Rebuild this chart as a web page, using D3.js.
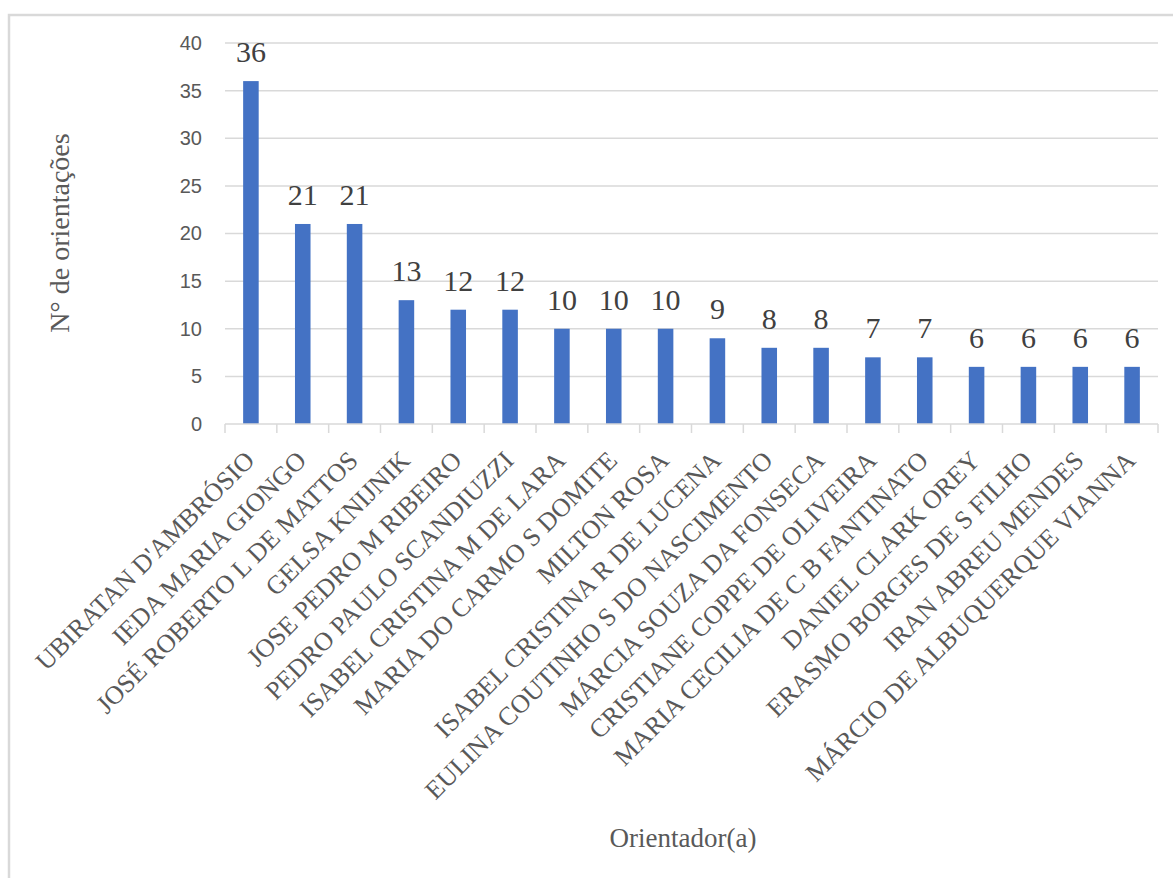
<!DOCTYPE html>
<html>
<head>
<meta charset="utf-8">
<script src="https://cdn.jsdelivr.net/npm/d3@7"></script>
<style>
  html, body { margin: 0; padding: 0; background: #fff; }
  svg { display: block; }
</style>
</head>
<body>
<svg id="chart" width="1173" height="878"></svg>
<script>
// Orientações por orientador(a)
const orientadores = [
  "UBIRATAN D'AMBRÓSIO",
  "IEDA MARIA GIONGO",
  "JOSÉ ROBERTO L DE MATTOS",
  "GELSA KNIJNIK",
  "JOSE PEDRO M RIBEIRO",
  "PEDRO PAULO SCANDIUZZI",
  "ISABEL CRISTINA M DE LARA",
  "MARIA DO CARMO S DOMITE",
  "MILTON ROSA",
  "ISABEL CRISTINA R DE LUCENA",
  "EULINA COUTINHO S DO NASCIMENTO",
  "MÁRCIA SOUZA DA FONSECA",
  "CRISTIANE COPPE DE OLIVEIRA",
  "MARIA CECILIA DE C B FANTINATO",
  "DANIEL CLARK OREY",
  "ERASMO BORGES DE S FILHO",
  "IRAN ABREU MENDES",
  "MÁRCIO DE ALBUQUERQUE VIANNA"
];
const orientacoes = [36, 21, 21, 13, 12, 12, 10, 10, 10, 9, 8, 8, 7, 7, 6, 6, 6, 6];
const yTicks = [0, 5, 10, 15, 20, 25, 30, 35, 40];

const svg = d3.select("#chart");
const serif = "'Liberation Serif', 'Times New Roman', serif";
const sans = "'Liberation Sans', Arial, sans-serif";
const textColor = "#595959";
const gridColor = "#d9d9d9";

// chart frame
svg.append("path")
  .attr("d", "M9,878 L9,15 L1173,15")
  .attr("fill", "none")
  .attr("stroke", gridColor)
  .attr("stroke-width", 2.5);

const plot = { left: 225, right: 1158, top: 43, bottom: 424 };

const x = d3.scaleBand()
  .domain(orientadores)
  .range([plot.left, plot.right])
  .paddingInner(0.7)
  .paddingOuter(0.35);

const y = d3.scaleLinear()
  .domain([0, 40])
  .range([plot.bottom, plot.top]);

// horizontal gridlines
svg.append("g")
  .selectAll("line")
  .data(yTicks.filter(t => t > 0))
  .join("line")
  .attr("x1", plot.left)
  .attr("x2", plot.right)
  .attr("y1", d => y(d))
  .attr("y2", d => y(d))
  .attr("stroke", gridColor)
  .attr("stroke-width", 1.5);

// y axis labels
const yAxis = d3.axisLeft(y).tickValues(yTicks).tickSize(0).tickPadding(23);
svg.append("g")
  .attr("transform", `translate(${plot.left},0)`)
  .call(yAxis)
  .call(g => g.select(".domain").remove())
  .call(g => g.selectAll("text")
    .attr("font-family", sans)
    .attr("font-size", 20)
    .attr("fill", textColor));

// bars
svg.append("g")
  .selectAll("rect")
  .data(orientadores)
  .join("rect")
  .attr("x", d => x(d))
  .attr("y", (d, i) => y(orientacoes[i]))
  .attr("width", x.bandwidth())
  .attr("height", (d, i) => y(0) - y(orientacoes[i]))
  .attr("fill", "#4472C4");

// x axis: baseline with tick marks between categories
const step = x.step();
const boundaries = d3.range(orientadores.length + 1).map(i => plot.left + i * step);
const xAxisG = svg.append("g");
xAxisG.append("line")
  .attr("x1", plot.left).attr("x2", plot.right)
  .attr("y1", plot.bottom).attr("y2", plot.bottom)
  .attr("stroke", gridColor).attr("stroke-width", 1.5);
xAxisG.selectAll("line.tick")
  .data(boundaries)
  .join("line")
  .attr("class", "tick")
  .attr("x1", d => d).attr("x2", d => d)
  .attr("y1", plot.bottom).attr("y2", plot.bottom + 9)
  .attr("stroke", gridColor).attr("stroke-width", 1.5);

// rotated category labels
xAxisG.selectAll("text")
  .data(orientadores)
  .join("text")
  .attr("transform", d => `translate(${x(d) + x.bandwidth() / 2 + 5},${plot.bottom + 38}) rotate(-45)`)
  .attr("text-anchor", "end")
  .attr("font-family", serif)
  .attr("font-size", 26)
  .attr("fill", textColor)
  .text(d => d);

// value labels
svg.append("g")
  .selectAll("text")
  .data(orientadores)
  .join("text")
  .attr("x", d => x(d) + x.bandwidth() / 2)
  .attr("y", (d, i) => y(orientacoes[i]) - 19)
  .attr("text-anchor", "middle")
  .attr("font-family", serif)
  .attr("font-size", 30)
  .attr("fill", "#404040")
  .text((d, i) => orientacoes[i]);

// axis titles
svg.append("text")
  .attr("transform", "translate(69,233) rotate(-90)")
  .attr("text-anchor", "middle")
  .attr("font-family", serif)
  .attr("font-size", 28)
  .attr("fill", textColor)
  .text("N° de orientações");

svg.append("text")
  .attr("x", 683)
  .attr("y", 847)
  .attr("text-anchor", "middle")
  .attr("font-family", serif)
  .attr("font-size", 27)
  .attr("fill", textColor)
  .text("Orientador(a)");
</script>
</body>
</html>
